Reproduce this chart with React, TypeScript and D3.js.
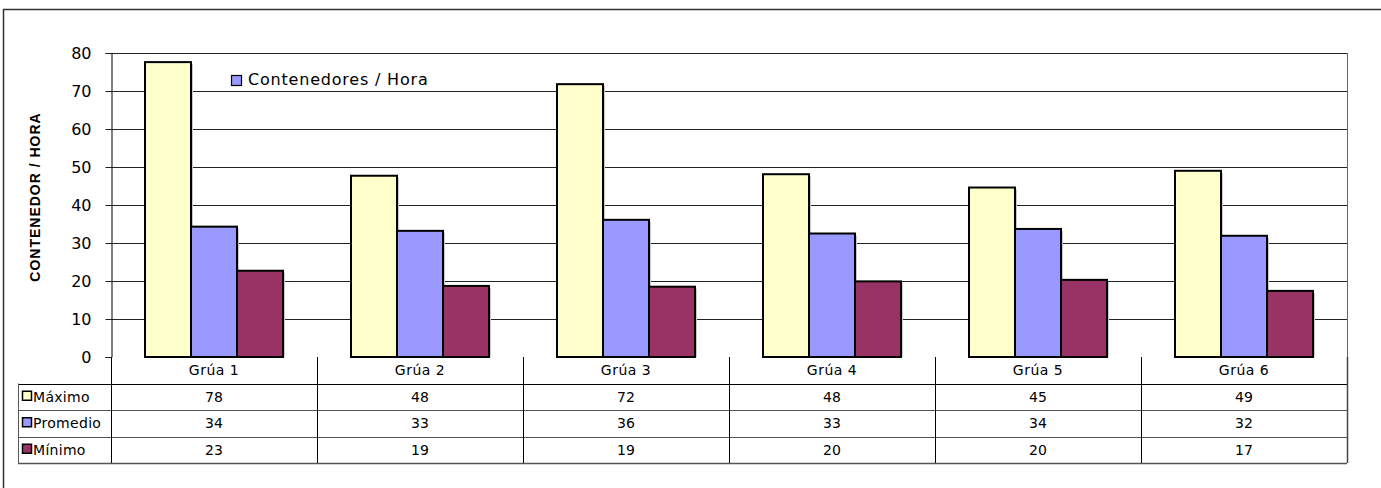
import { useEffect, useRef } from "react";
import * as d3 from "d3";

const categories = ["Grúa 1", "Grúa 2", "Grúa 3", "Grúa 4", "Grúa 5", "Grúa 6"];
const seriesNames = ["Máximo", "Promedio", "Mínimo"];
const maximo = [77.6, 47.7, 71.8, 48.1, 44.6, 49.0];
const promedio = [34.3, 33.2, 36.1, 32.5, 33.7, 31.9];
const minimo = [22.7, 18.7, 18.5, 19.9, 20.3, 17.4];
const yTicks = [0, 10, 20, 30, 40, 50, 60, 70, 80];
const seriesColors = ["#FFFFCC", "#9999FF", "#993366"];

export default function App() {
  const ref = useRef<SVGSVGElement | null>(null);

  useEffect(() => {
    if (!ref.current) return;
    const svg = d3.select(ref.current);
    svg.selectAll("*").remove();

    const width = 1381;
    const height = 488;
    const margin = { top: 53, right: 34, bottom: 131, left: 111 };
    const rowH = 26.5;
    const tableLeft = 18;
    const font = "'DejaVu Sans', Verdana, sans-serif";

    svg.attr("width", width).attr("height", height);

    const values = [maximo, promedio, minimo];

    const x = d3.scaleBand<string>()
      .domain(categories)
      .range([margin.left, width - margin.right])
      .padding(0);

    const x1 = d3.scaleBand<string>()
      .domain(seriesNames)
      .range([34, x.bandwidth() - 34])
      .padding(0);

    const y = d3.scaleLinear()
      .domain([0, 80])
      .range([height - margin.bottom, margin.top]);

    // outer frame
    svg.append("rect")
      .attr("x", 3.5).attr("y", 9.5)
      .attr("width", width + 10).attr("height", height + 10)
      .attr("fill", "white")
      .attr("stroke", "#333").attr("stroke-width", 1.5);

    // gridlines
    svg.append("g")
      .selectAll("line")
      .data(yTicks.filter(t => t > 0))
      .enter()
      .append("line")
      .attr("x1", margin.left).attr("x2", width - margin.right)
      .attr("y1", d => Math.round(y(d)) + 0.5).attr("y2", d => Math.round(y(d)) + 0.5)
      .attr("stroke", "#222");

    // right border of plot area
    svg.append("line")
      .attr("x1", width - margin.right + 0.5).attr("x2", width - margin.right + 0.5)
      .attr("y1", y(80)).attr("y2", y(0))
      .attr("stroke", "#666");

    // bars
    const g = svg.append("g");
    seriesNames.forEach((s, si) => {
      const bx = (i: number) => x(categories[i])! + x1(s)!;
      g.selectAll(`rect.shadow-${si}`)
        .data(values[si])
        .enter()
        .append("rect")
        .attr("x", (_, i) => bx(i) + 2)
        .attr("y", d => y(d) + 2)
        .attr("width", x1.bandwidth())
        .attr("height", d => y(0) - y(d) - 2)
        .attr("fill", "#c8c8c8");
      g.selectAll(`rect.bar-${si}`)
        .data(values[si])
        .enter()
        .append("rect")
        .attr("x", (_, i) => bx(i))
        .attr("y", d => y(d))
        .attr("width", x1.bandwidth())
        .attr("height", d => y(0) - y(d))
        .attr("fill", seriesColors[si])
        .attr("stroke", "#000")
        .attr("stroke-width", 2);
    });

    // y axis
    const yAxis = svg.append("g")
      .attr("transform", `translate(${margin.left + 0.5},0)`)
      .call(d3.axisLeft(y).tickValues(yTicks).tickSize(6).tickPadding(14).tickFormat(d3.format("d")));
    yAxis.select(".domain").attr("stroke", "#000");
    yAxis.selectAll("line").attr("stroke", "#222");
    yAxis.selectAll("text")
      .attr("fill", "#000")
      .style("font-family", font)
      .style("font-size", "16px");

    // y axis title
    svg.append("text")
      .attr("transform", `translate(40,197) rotate(-90)`)
      .attr("text-anchor", "middle")
      .style("font-family", "'Liberation Sans', Arial, sans-serif")
      .style("font-size", "14px")
      .style("font-weight", "bold")
      .style("letter-spacing", "1px")
      .attr("fill", "#000")
      .text("CONTENEDOR / HORA");

    // legend
    svg.append("rect")
      .attr("x", 231.5).attr("y", 75.5).attr("width", 10).attr("height", 10)
      .attr("fill", seriesColors[1]).attr("stroke", "#000").attr("stroke-width", 1.2);
    svg.append("text")
      .attr("x", 248).attr("y", 85)
      .style("font-family", font)
      .style("font-size", "16px")
      .style("letter-spacing", "0.8px")
      .attr("fill", "#000")
      .text("Contenedores / Hora");

    // data table
    const t0 = y(0);
    const table = svg.append("g");
    const rowY = (r: number) => t0 + rowH * r;

    // horizontal row lines
    [1, 2, 3, 4].forEach(r => {
      table.append("line")
        .attr("x1", tableLeft).attr("x2", width - margin.right)
        .attr("y1", Math.round(rowY(r)) + 0.5).attr("y2", Math.round(rowY(r)) + 0.5)
        .attr("stroke", r === 1 ? "#000" : "#555")
        .attr("stroke-width", r === 4 ? 1.5 : 1);
    });
    // left border of legend column
    table.append("line")
      .attr("x1", tableLeft + 0.5).attr("x2", tableLeft + 0.5)
      .attr("y1", rowY(1)).attr("y2", rowY(4))
      .attr("stroke", "#555");
    // vertical dividers
    const dividers = [margin.left, ...categories.map(c => x(c)! + x.bandwidth())];
    table.selectAll("line.div")
      .data(dividers)
      .enter()
      .append("line")
      .attr("x1", d => Math.round(d) + 0.5).attr("x2", d => Math.round(d) + 0.5)
      .attr("y1", t0).attr("y2", rowY(4))
      .attr("stroke", (_, i) => (i === dividers.length - 1 ? "#444" : "#000"))
      .attr("stroke-width", (_, i) => (i === dividers.length - 1 ? 1.5 : 1));

    // category labels
    table.selectAll("text.cat")
      .data(categories)
      .enter()
      .append("text")
      .attr("x", d => x(d)! + x.bandwidth() / 2)
      .attr("y", rowY(0.5) + 5)
      .attr("text-anchor", "middle")
      .style("font-family", font)
      .style("font-size", "14px")
      .style("letter-spacing", "0.5px")
      .attr("fill", "#000")
      .text(d => d);

    const fmt = d3.format(".0f");
    seriesNames.forEach((s, si) => {
      const cy = rowY(si + 1.5);
      table.append("rect")
        .attr("x", 22.5).attr("y", cy - 5.5).attr("width", 9).attr("height", 9)
        .attr("fill", seriesColors[si]).attr("stroke", "#000").attr("stroke-width", 1.5);
      table.append("text")
        .attr("x", 33).attr("y", cy + 5)
        .style("font-family", font)
        .style("font-size", "14px")
        .style("letter-spacing", "0.3px")
        .attr("fill", "#000")
        .text(s);
      table.selectAll(`text.v-${si}`)
        .data(values[si])
        .enter()
        .append("text")
        .attr("x", (_, i) => x(categories[i])! + x.bandwidth() / 2)
        .attr("y", cy + 5)
        .attr("text-anchor", "middle")
        .style("font-family", font)
        .style("font-size", "14px")
        .attr("fill", "#000")
        .text(d => fmt(d));
    });
  }, []);

  return (
    <div style={{ position: "absolute", left: 0, top: 0, width: 1381, height: 488, overflow: "hidden" }}>
      <svg ref={ref} style={{ display: "block" }} />
    </div>
  );
}
